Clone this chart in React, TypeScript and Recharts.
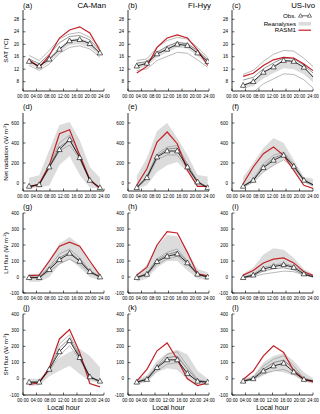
import React from 'react';
import { ComposedChart, Line, Area, XAxis, YAxis } from 'recharts';

const FONT = '"Liberation Sans", Arial, Helvetica, sans-serif';

// Local-hour positions of the 3-hourly samples for each site
const tCAMan = [1.8, 4.8, 7.8, 10.8, 13.8, 16.8, 19.8, 22.8];
const tFIHyy = [2.6, 5.6, 8.6, 11.6, 14.6, 17.6, 20.6, 23.6];
const tUSIvo = [3.3, 6.3, 9.3, 12.3, 15.3, 18.3, 21.3, 24.3];

const hourTicks = [0, 4, 8, 12, 16, 20, 24];
const satTicks = [8, 12, 16, 20, 24, 28];
const rnTicks = [0, 200, 400, 600];
const fluxTicks = [-100, 0, 100, 200, 300, 400];

const sites = ['CA-Man', 'FI-Hyy', 'US-Ivo'];
const panelLabels = ['(a)', '(b)', '(c)', '(d)', '(e)', '(f)', '(g)', '(h)', '(i)', '(j)', '(k)', '(l)'];

// ---- SAT ----
const aObs = [14.5, 13.0, 15.2, 18.4, 21.1, 21.5, 20.2, 17.2];
const aRasm = [15.0, 12.6, 16.4, 22.0, 24.6, 25.6, 23.6, 18.0];
const aG1 = [16.4, 14.8, 18.0, 21.7, 23.3, 23.8, 22.2, 19.0];
const aG2 = [15.3, 13.8, 16.8, 20.5, 22.5, 22.8, 21.4, 18.0];
const aG3 = [13.2, 11.6, 13.7, 17.1, 19.0, 19.5, 18.5, 15.8];
const aLo = [13.5, 12.2, 14.2, 17.3, 19.8, 20.0, 19.0, 16.2];
const aHi = [15.0, 13.6, 15.8, 19.0, 21.6, 22.0, 20.8, 17.6];

const bObs = [13.0, 13.9, 16.9, 18.4, 20.0, 19.6, 17.2, 14.5];
const bRasm = [10.8, 12.9, 19.0, 22.0, 23.0, 22.0, 18.2, 13.2];
const bG1 = [14.8, 15.3, 19.0, 21.2, 22.2, 21.7, 19.0, 15.8];
const bG2 = [14.0, 14.4, 17.4, 19.4, 20.6, 20.1, 18.0, 15.0];
const bG3 = [11.6, 12.1, 14.8, 16.1, 17.4, 17.1, 15.0, 12.6];
const bLo = [12.2, 12.8, 15.8, 17.4, 19.0, 18.6, 16.2, 13.4];
const bHi = [14.0, 14.6, 17.8, 19.4, 21.0, 20.6, 18.2, 15.4];

const cObs = [6.8, 8.0, 11.0, 12.7, 14.8, 14.5, 12.6, 9.2];
const cRasm = [9.7, 10.7, 13.2, 15.0, 15.8, 15.6, 13.7, 11.3];
const cG1 = [10.3, 11.6, 14.5, 16.8, 18.0, 17.8, 15.5, 12.6];
const cG2 = [8.5, 9.4, 12.1, 14.0, 15.6, 15.3, 13.3, 10.5];
const cG3 = [3.0, 4.6, 7.3, 8.9, 10.5, 10.3, 8.6, 5.7];
const cLo = [5.8, 6.6, 9.0, 10.8, 12.3, 12.0, 10.4, 7.5];
const cHi = [7.2, 8.4, 11.4, 13.2, 15.0, 14.8, 12.8, 9.6];

// ---- Net radiation ----
const dObs = [-33, -17, 160, 333, 433, 253, 27, -47];
const dRasm = [-47, -7, 177, 493, 533, 277, 33, -57];
const dG1 = [-30, -10, 185, 400, 480, 280, 40, -45];
const dG2 = [-35, -15, 170, 360, 430, 265, 30, -50];
const dG3 = [-40, -20, 150, 320, 380, 240, 20, -55];
const dLo = [-50, -45, -25, 180, 270, 80, -45, -55];
const dHi = [53, 77, 330, 580, 610, 430, 160, 53];

const eObs = [-47, 53, 260, 320, 320, 160, 10, -47];
const eRasm = [-23, 143, 410, 510, 393, 127, -33, -33];
const eG1 = [-40, 70, 290, 360, 375, 190, 20, -40];
const eG2 = [-45, 60, 270, 340, 350, 175, 15, -45];
const eG3 = [-50, 40, 235, 280, 280, 145, 0, -50];
const eLo = [-57, -23, 110, 177, 210, 110, -30, -47];
const eHi = [70, 250, 520, 600, 450, 280, 80, 65];

const fObs = [-33, 27, 153, 227, 277, 167, 27, -23];
const fRasm = [-7, 160, 293, 360, 277, 127, -23, -57];
const fG1 = [-30, 40, 193, 277, 310, 190, 40, -20];
const fG2 = [-35, 30, 165, 250, 290, 175, 30, -25];
const fG3 = [-45, 10, 110, 177, 233, 145, 15, -35];
const fLo = [-40, 10, 110, 177, 243, 143, 10, -40];
const fHi = [60, 200, 350, 450, 400, 230, 60, 40];

// ---- LH flux ----
const gObs = [-4, -4, 46, 108, 148, 98, 33, 0];
const gRasm = [8, 12, 100, 192, 218, 192, 100, 10];
const gG1 = [0, 0, 65, 144, 175, 120, 40, 5];
const gG2 = [-2, -2, 55, 120, 155, 105, 35, 2];
const gG3 = [-6, -6, 35, 81, 112, 80, 25, -3];
const gLo = [-30, -30, 0, 80, 110, 60, 0, -20];
const gHi = [20, 20, 110, 210, 250, 200, 90, 20];

const hObs = [-4, 17, 96, 129, 144, 88, 17, 0];
const hRasm = [12, 60, 200, 283, 275, 154, 19, 8];
const hG1 = [0, 25, 113, 154, 175, 100, 22, 3];
const hG2 = [-2, 20, 104, 140, 158, 95, 20, 2];
const hG3 = [-6, 12, 81, 112, 129, 80, 12, -3];
const hLo = [-30, -10, 60, 100, 100, 40, -10, -20];
const hHi = [12, 80, 196, 262, 254, 154, 50, 30];

const iObs = [-4, 12, 50, 65, 77, 60, 19, 0];
const iRasm = [12, 40, 88, 112, 119, 88, 33, 8];
const iG1 = [0, 18, 60, 75, 85, 70, 25, 4];
const iG2 = [-2, 8, 38, 52, 58, 45, 15, 0];
const iG3 = [-6, 2, 19, 27, 37, 33, 12, -2];
const iLo = [-10, 0, 50, 60, 65, 50, 15, 0];
const iHi = [20, 60, 140, 180, 170, 120, 50, 15];

// ---- SH flux ----
const jObs = [-21, -21, 58, 167, 235, 131, 12, -15];
const jRasm = [-35, -25, 69, 246, 304, 163, -29, -50];
const jG1 = [-20, -18, 65, 215, 271, 150, 15, -15];
const jG2 = [-22, -20, 60, 190, 250, 140, 10, -18];
const jG3 = [-28, -25, 50, 142, 204, 120, 5, -20];
const jLo = [-45, -40, 15, 50, 80, 30, -15, -25];
const jHi = [0, 0, 60, 130, 165, 185, 140, 70];

const kObs = [-21, -4, 69, 117, 117, 33, -15, -21];
const kRasm = [-15, 58, 173, 221, 121, 0, -42, -25];
const kG1 = [-18, 5, 80, 152, 167, 80, -5, -18];
const kG2 = [-20, 0, 75, 130, 140, 60, -10, -20];
const kG3 = [-25, -10, 50, 90, 100, 35, -20, -25];
const kLo = [-35, -20, 40, 65, 55, -5, -35, -40];
const kHi = [0, 20, 110, 160, 180, 150, 50, 0];

const lObs = [-15, 0, 48, 79, 96, 42, -4, -15];
const lRasm = [-4, 48, 142, 204, 163, 48, -4, -21];
const lG1 = [-10, 8, 79, 121, 142, 79, 5, -12];
const lG2 = [-12, 3, 60, 100, 115, 60, 0, -15];
const lG3 = [-18, -5, 33, 48, 58, 30, -8, -18];
const lLo = [-20, -10, 20, 50, 40, 20, -20, -30];
const lHi = [0, 20, 100, 140, 160, 110, 40, 0];

const times = [tCAMan, tFIHyy, tUSIvo];
const series = [
  [aObs, aRasm, aG1, aG2, aG3, aLo, aHi], [bObs, bRasm, bG1, bG2, bG3, bLo, bHi], [cObs, cRasm, cG1, cG2, cG3, cLo, cHi],
  [dObs, dRasm, dG1, dG2, dG3, dLo, dHi], [eObs, eRasm, eG1, eG2, eG3, eLo, eHi], [fObs, fRasm, fG1, fG2, fG3, fLo, fHi],
  [gObs, gRasm, gG1, gG2, gG3, gLo, gHi], [hObs, hRasm, hG1, hG2, hG3, hLo, hHi], [iObs, iRasm, iG1, iG2, iG3, iLo, iHi],
  [jObs, jRasm, jG1, jG2, jG3, jLo, jHi], [kObs, kRasm, kG1, kG2, kG3, kLo, kHi], [lObs, lRasm, lG1, lG2, lG3, lLo, lHi],
];

// layout
const colX = [23, 128, 232];
const PW = 81;
const rowY = [10, 113, 213, 314];
const rowH = [81, 78, 80, 81];
const rowDomain: [number, number][] = [[5, 31], [-80, 700], [-100, 400], [-100, 400]];
const rowTicks = [satTicks, rnTicks, fluxTicks, fluxTicks];

const YW = 22, RP = 10, TP = 4, XH = 12;
const RED = '#c42127';

const fmtHour = (h: number) => (h < 10 ? '0' + h : '' + h) + ':00';
const blank = () => '';

const Tri = (props: any) => {
  const { cx, cy, payload, index } = props;
  if (cx == null || cy == null || payload.t > 24) return <g key={'n' + index} />;
  return (
    <path key={'d' + index} d={`M${cx},${cy - 2.9}L${cx + 2.7},${cy + 1.9}L${cx - 2.7},${cy + 1.9}Z`}
      fill="#fff" stroke="#000" strokeWidth={0.6} />
  );
};

function Panel({ idx }: { idx: number }) {
  const row = Math.floor(idx / 3), col = idx % 3;
  const t = times[col];
  const [obs, rasm, g1, g2, g3, lo, hi] = series[idx];
  const data = t.map((tt, i) => ({ t: tt, obs: obs[i], rasm: rasm[i], g1: g1[i], g2: g2[i], g3: g3[i], band: [lo[i], hi[i]] }));
  const H = rowH[row];
  const axisLine = { stroke: '#000', strokeWidth: 0.8 };
  const tickLine = { stroke: '#000', strokeWidth: 0.6 };
  const tickFont = { fontSize: 4.6, fill: '#000', fontFamily: FONT };
  return (
    <div style={{ position: 'absolute', left: colX[col] - YW, top: rowY[row] - TP }}>
      <ComposedChart width={YW + PW + RP} height={TP + H + XH} data={data}
        margin={{ top: TP, right: RP, left: 0, bottom: 0 }}>
        <XAxis xAxisId="b" dataKey="t" type="number" domain={[0, 24]} ticks={hourTicks} allowDataOverflow
          interval={0} tickFormatter={fmtHour} height={XH} tickSize={-2.5} tickMargin={6}
          tick={tickFont} axisLine={axisLine} tickLine={tickLine} />
        <XAxis xAxisId="t" orientation="top" dataKey="t" type="number" domain={[0, 24]} ticks={hourTicks} allowDataOverflow
          interval={0} tickFormatter={blank} height={0} tickSize={-2.5}
          tick={tickFont} axisLine={axisLine} tickLine={tickLine} />
        <YAxis yAxisId="l" type="number" domain={rowDomain[row]} ticks={rowTicks[row]} allowDataOverflow
          interval={0} width={YW} tickSize={-2.5} tickMargin={6.5}
          tick={tickFont} axisLine={axisLine} tickLine={tickLine} />
        <YAxis yAxisId="r" orientation="right" type="number" domain={rowDomain[row]} ticks={rowTicks[row]} allowDataOverflow
          interval={0} width={0} tickSize={-2.5} tickFormatter={blank}
          tick={tickFont} axisLine={axisLine} tickLine={tickLine} />
        <Area xAxisId="b" yAxisId="l" dataKey="band" type="linear" fill="#dcdcdc" fillOpacity={1} stroke="none" isAnimationActive={false} />
        <Line xAxisId="b" yAxisId="l" dataKey="g3" type="linear" stroke="#9a9a9a" strokeWidth={0.7} dot={false} isAnimationActive={false} />
        <Line xAxisId="b" yAxisId="l" dataKey="g1" type="linear" stroke="#9a9a9a" strokeWidth={0.7} dot={false} isAnimationActive={false} />
        <Line xAxisId="b" yAxisId="l" dataKey="g2" type="linear" stroke="#6a6a6a" strokeWidth={0.7} dot={false} isAnimationActive={false} />
        <Line xAxisId="b" yAxisId="l" dataKey="rasm" type="linear" stroke={RED} strokeWidth={1.2} dot={false} isAnimationActive={false} />
        <Line xAxisId="b" yAxisId="l" dataKey="obs" type="linear" stroke="#000" strokeWidth={0.8} dot={Tri} isAnimationActive={false} />
      </ComposedChart>
    </div>
  );
}

const yTitles: [string, boolean][] = [['SAT (°C)', false], ['Net radiation (W m', true], ['LH flux (W m', true], ['SH flux (W m', true]];

export default function App() {
  return (
    <div style={{ position: 'absolute', left: 0, top: 0, width: 320, height: 414, background: '#fff', fontFamily: FONT }}>
      {series.map((_, i) => <Panel key={i} idx={i} />)}
      <svg width={320} height={414} style={{ position: 'absolute', left: 0, top: 0, pointerEvents: 'none' }}
        fontFamily={FONT}>
        {panelLabels.map((lab, i) => {
          const row = Math.floor(i / 3), col = i % 3;
          const base = row === 0 ? 7.5 : rowY[row] - 4.5;
          return <text key={lab} x={colX[col]} y={base} fontSize={7.5} fill="#000">{lab}</text>;
        })}
        {sites.map((s, col) => (
          <text key={s} x={colX[col] + PW + 2} y={8} fontSize={7.8} textAnchor="end" fill="#000">{s}</text>
        ))}
        {yTitles.map(([s, sup], row) => {
          const cy = rowY[row] + rowH[row] / 2;
          return (
            <text key={s} x={8} y={cy} fontSize={6.2} textAnchor="middle" transform={`rotate(-90 8 ${cy})`} fill="#000">
              {s}
              {sup && <tspan fontSize={4.2} dy={-2.4}>-2</tspan>}
              {sup && <tspan dy={2.4}>)</tspan>}
            </text>
          );
        })}
        {colX.map((x, col) => (
          <text key={'lh' + col} x={x + PW / 2} y={410} fontSize={7} textAnchor="middle" fill="#000">Local hour</text>
        ))}
        {/* legend in panel (c) */}
        <text x={296} y={18} fontSize={6.2} textAnchor="end" fill="#000">Obs.</text>
        <line x1={299} x2={311} y1={15.8} y2={15.8} stroke="#000" strokeWidth={0.6} />
        <path d="M300.5,13.6L302.6,17.2L298.4,17.2Z" fill="#fff" stroke="#000" strokeWidth={0.5} />
        <path d="M309.5,13.6L311.6,17.2L307.4,17.2Z" fill="#fff" stroke="#000" strokeWidth={0.5} />
        <text x={296} y={26} fontSize={6.2} textAnchor="end" fill="#000">Reanalyses</text>
        <rect x={298.5} y={22} width={12.5} height={3.6} fill="#dcdcdc" />
        <text x={296} y={32.3} fontSize={6.2} textAnchor="end" fill="#000">RASM1</text>
        <line x1={298.5} x2={311} y1={30.2} y2={30.2} stroke={RED} strokeWidth={1.2} />
      </svg>
    </div>
  );
}
